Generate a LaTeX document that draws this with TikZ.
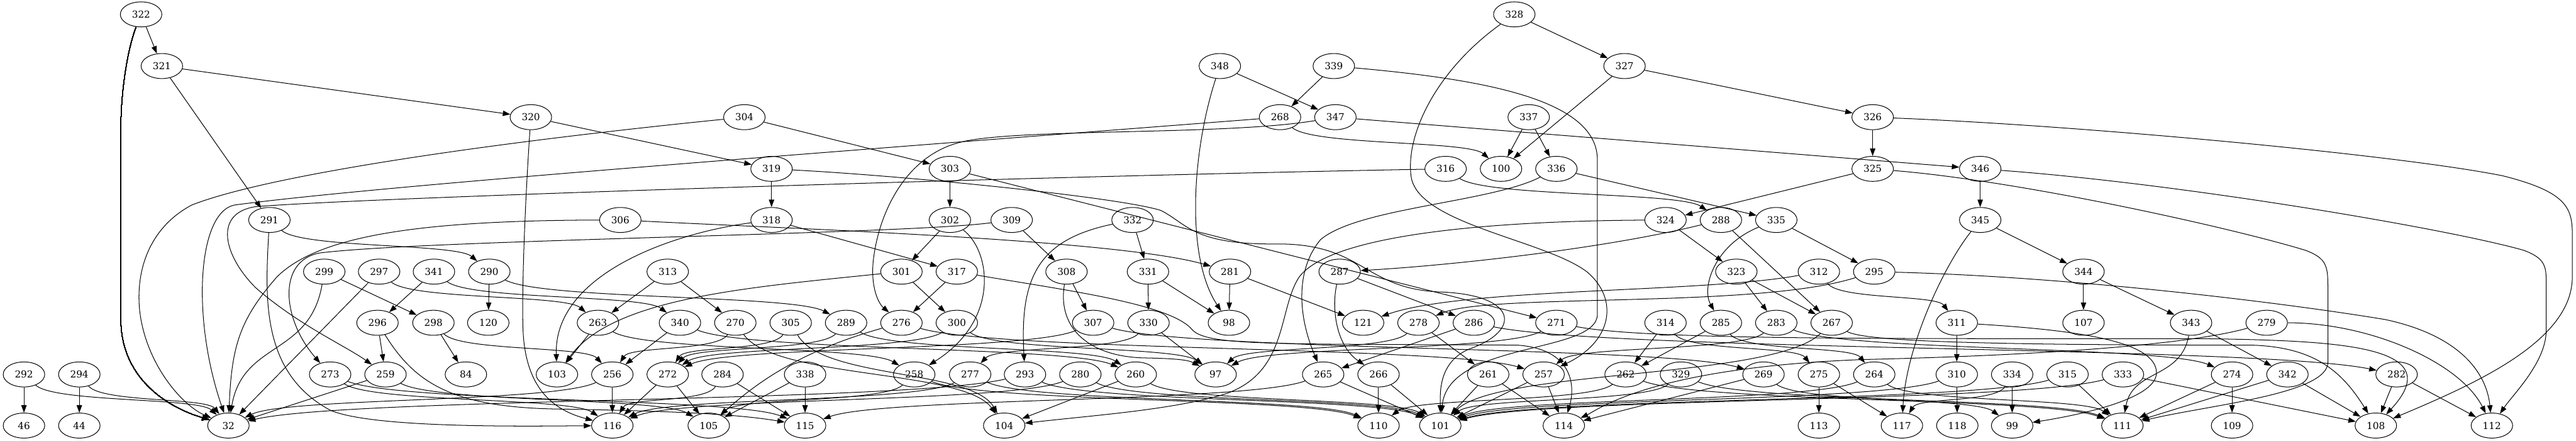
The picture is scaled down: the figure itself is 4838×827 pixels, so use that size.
\documentclass[tikz,border=0pt]{standalone}
\usepackage{fontspec}
\newfontfamily\dvs{DejaVu Serif}
\usetikzlibrary{shapes.geometric,arrows.meta,calc}
\tikzset{
  nd/.style={ellipse,draw,line width=0.6pt,minimum width=39pt,minimum height=23.5pt,inner sep=0pt,font=\dvs\fontsize{9}{10}\selectfont},
  e/.style={draw,line width=0.6pt,-{Triangle[length=7pt,width=5pt]}}
}
\newcommand{\cedge}[2]{\draw[e] let \p1=(#1), \p2=(#2) in (#1) .. controls ({\x1+0.15*(\x2-\x1)},{\y1+0.55*(\y2-\y1)}) and ({\x2-0.15*(\x2-\x1)},{\y2-0.55*(\y2-\y1)}) .. (#2);}
\begin{document}
\begin{tikzpicture}[x=0.5pt,y=-0.5pt]
\useasboundingbox (0,0) rectangle (4838,827);
% nodes
\foreach \n/\x in {322/265,328/2844} \node[nd] (n\n) at (\x,27) {\n};
\foreach \n/\x in {321/304,348/2291,339/2505,327/3051} \node[nd] (n\n) at (\x,124) {\n};
\foreach \n/\x in {320/997,304/1398,268/2404,347/2508,337/2871,326/3517} \node[nd] (n\n) at (\x,220) {\n};
\foreach \n/\x in {319/1449,303/1784,316/2715,100/2819,336/2923,325/3517,346/3719} \node[nd] (n\n) at (\x,317) {\n};
\foreach \n/\x in {291/506,306/1165,318/1449,302/1784,309/1900,332/2127,324/3128,288/3232,335/3336,345/3719} \node[nd] (n\n) at (\x,413) {\n};
\foreach \n/\x in {299/609,297/712,341/815,290/919,313/1254,301/1693,317/1797,308/2003,331/2156,281/2310,287/2516,323/3261,312/3416,295/3520,344/3913} \node[nd] (n\n) at (\x,510) {\n};
\foreach \n/\x in {296/709,298/814,120/917,263/1123,340/1277,270/1381,305/1485,289/1589,276/1693,300/1797,307/2053,330/2157,98/2308,121/2560,278/2664,286/2768,271/2923,314/3128,285/3232,283/3336,267/3440,311/3675,107/3913,343/4115,279/4257} \node[nd] (n\n) at (\x,606) {\n};
\foreach \n/\x in {292/45,294/149,273/620,259/724,84/875,103/1046,256/1150,272/1254,284/1357,338/1512,258/1717,277/1822,293/1925,280/2029,260/2133,97/2283,265/2485,266/2589,261/2795,257/2899,262/3053,329/3157,269/3312,275/3416,264/3520,310/3675,334/3779,315/3883,333/3987,274/4192,342/4296,282/4501} \node[nd] (n\n) at (\x,703) {\n};
\foreach \n/\x in {46/45,44/149,32/429,116/1150,105/1331,115/1512,104/1886,110/2589,101/2705,114/2937,113/3416,117/3572,118/3676,99/3779,111/3986,109/4192,108/4462,112/4680} \node[nd] (n\n) at (\x,799) {\n};
% straight edges
\foreach \a/\b in {322/321,328/327,321/320,321/291,348/347,339/268,327/326,327/100,320/319,304/303,347/346,337/100,337/336,326/325,319/318,303/302,303/271,336/335,325/324,346/345,318/317,302/301,309/308,332/331,324/323,288/267,335/295,345/344,299/298,297/32,341/296,290/120,313/263,313/270,301/300,317/276,308/307,331/330,331/98,281/98,281/121,287/286,323/283,323/267,344/107,344/343,296/259,298/84,263/103,340/256,330/97,278/261,286/265,314/262,285/262,311/310,343/342,259/32,256/116,272/105,272/116,284/115,338/115,338/105,260/104,265/101,266/110,266/101,261/101,261/114,257/101,257/114,269/114,275/113,275/117,310/118,334/99,315/111,333/108,274/111,274/109,342/111,342/108,282/108,282/112,292/46,294/44}
  \draw[e] (n\a) -- (n\b);
% generic curved edges
\foreach \a/\b in {268/100,316/288,291/290,299/32,297/263,341/340,290/289,312/311,298/256,263/258,340/260,270/256,270/104,305/272,305/104,289/272,289/260,276/257,300/272,300/97,307/272,307/269,330/277,278/97,286/282,271/97,314/275,285/264,283/257,283/274,267/101,343/111,273/116,273/115,259/105,256/32,284/116,258/105,258/110,277/116,277/110,293/32,293/101,280/116,280/101,260/101,265/115,262/110,262/111,329/101,329/111,269/99,264/101,264/111,310/101,334/117,315/101,333/101,292/32,294/32}
  \cedge{n\a}{n\b}
% routed edges
\draw[e] (n322) .. controls (240,90) and (227,170) .. (227,240) -- (227,600) .. controls (227,700) and (300,760) .. (n32);
\draw[e] (n328) .. controls (2700,130) and (2640,250) .. (2650,330) .. controls (2660,420) and (2900,450) .. (2980,510) .. controls (3040,560) and (3030,640) .. (n257);
\draw[e] (n348) .. controls (2240,280) and (2225,480) .. (n98);
\draw[e] (n339) .. controls (2800,150) and (3000,190) .. (3000,300) -- (3000,590) .. controls (3000,665) and (2720,640) .. (n101);
\draw[e] (n320) .. controls (988,350) and (980,520) .. (982,610) .. controls (984,730) and (1040,770) .. (n116);
\draw[e] (n304) .. controls (900,270) and (500,330) .. (360,385) .. controls (285,425) and (255,500) .. (262,580) .. controls (272,680) and (340,760) .. (n32);
\draw[e] (n268) .. controls (1500,290) and (700,350) .. (440,385) .. controls (370,400) and (360,600) .. (n32);
\draw[e] (n347) .. controls (2300,255) and (1900,240) .. (1800,268) .. controls (1700,295) and (1650,400) .. (1640,490) .. controls (1635,540) and (1650,570) .. (n276);
\draw[e] (n326) .. controls (3900,235) and (4500,290) .. (4700,330) .. controls (4820,360) and (4831,390) .. (4831,440) -- (4831,520) .. controls (4831,640) and (4650,720) .. (n108);
\draw[e] (n319) .. controls (1700,330) and (2100,370) .. (2180,395) .. controls (2230,420) and (2240,460) .. (2400,458) .. controls (2560,458) and (2560,540) .. (2700,548) .. controls (2850,552) and (2860,620) .. (2760,655) .. controls (2700,680) and (2705,740) .. (n101);
\draw[e] (n316) .. controls (2000,330) and (700,370) .. (480,388) .. controls (400,400) and (420,480) .. (480,540) .. controls (560,610) and (650,650) .. (n259);
\draw[e] (n336) .. controls (2800,380) and (2550,390) .. (2480,450) .. controls (2430,510) and (2440,600) .. (n265);
\draw[e] (n325) .. controls (3800,340) and (4200,430) .. (4330,470) .. controls (4370,485) and (4372,500) .. (4372,540) -- (4372,680) .. controls (4372,740) and (4150,760) .. (n111);
\draw[e] (n346) .. controls (4100,345) and (4600,430) .. (4740,470) .. controls (4780,485) and (4782,500) .. (4782,530) -- (4782,620) .. controls (4782,680) and (4720,740) .. (n112);
\draw[e] (n291) .. controls (498,560) and (490,700) .. (620,770) .. controls (700,805) and (1000,800) .. (n116);
\draw[e] (n306) .. controls (800,414) and (600,440) .. (520,520) .. controls (450,600) and (435,650) .. (n32);
\draw[e] (n306) .. controls (1500,430) and (2100,450) .. (n281);
\draw[e] (n318) .. controls (1250,440) and (1040,520) .. (n103);
\draw[e] (n302) .. controls (1860,470) and (1880,600) .. (n258);
\draw[e] (n309) .. controls (1700,440) and (800,450) .. (600,475) .. controls (520,490) and (530,600) .. (n273);
\draw[e] (n332) .. controls (1950,450) and (1915,520) .. (n293);
\draw[e] (n324) .. controls (2800,415) and (2500,440) .. (2440,520) .. controls (2400,580) and (2420,700) .. (2300,740) .. controls (2200,770) and (2050,780) .. (n104);
\draw[e] (n288) .. controls (3000,470) and (2700,500) .. (n287);
\draw[e] (n335) .. controls (3220,460) and (3195,540) .. (n285);
\draw[e] (n345) .. controls (3650,500) and (3580,650) .. (n117);
\draw[e] (n301) .. controls (1400,540) and (1150,560) .. (n103);
\draw[e] (n317) .. controls (2000,545) and (2200,570) .. (2240,620) .. controls (2270,650) and (2400,645) .. (2850,648) .. controls (2950,655) and (2960,720) .. (n114);
\draw[e] (n308) .. controls (1985,620) and (2050,670) .. (2150,672) .. controls (2200,673) and (2230,675) .. (n97);
\draw[e] (n287) .. controls (2500,580) and (2510,650) .. (n266);
\draw[e] (n312) .. controls (3200,550) and (2750,540) .. (n121);
\draw[e] (n295) .. controls (3300,580) and (2800,550) .. (n278);
\draw[e] (n295) .. controls (3900,520) and (4300,570) .. (4480,600) .. controls (4620,630) and (4670,700) .. (n112);
\draw[e] (n296) .. controls (780,720) and (850,765) .. (1050,768) .. controls (1300,772) and (1400,780) .. (n115);
\draw[e] (n276) .. controls (1500,660) and (1420,720) .. (n105);
\draw[e] (n271) .. controls (3100,640) and (3600,635) .. (4150,636) .. controls (4400,640) and (4600,650) .. (n108);
\draw[e] (n267) .. controls (3500,640) and (3700,648) .. (4230,648) .. controls (4350,652) and (4400,700) .. (n108);
\draw[e] (n311) .. controls (3900,620) and (4050,640) .. (4050,700) .. controls (4050,750) and (3900,780) .. (n99);
\draw[e] (n279) .. controls (4450,606) and (4620,680) .. (n112);
\draw[e] (n279) .. controls (4100,650) and (3800,668) .. (3500,675) .. controls (3100,690) and (3000,770) .. (n114);
\end{tikzpicture}
\end{document}
